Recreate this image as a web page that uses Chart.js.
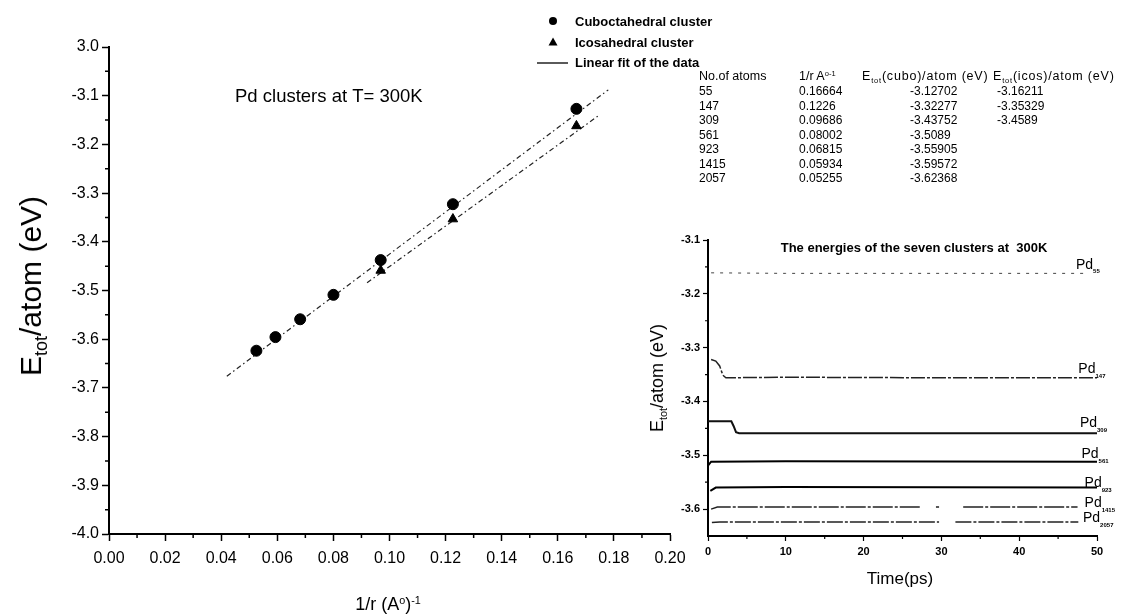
<!DOCTYPE html>
<html>
<head>
<meta charset="utf-8">
<script src="https://cdn.jsdelivr.net/npm/chart.js@4.4.1/dist/chart.umd.min.js"></script>
<style>
  body { margin: 0; width: 1122px; height: 615px; overflow: hidden; position: relative; background: #fff;
         font-family: "Liberation Sans", Arial, sans-serif; color: #000; }
  canvas { position: absolute; }
  #main { left: 0; top: 0; }
  #inset { left: 640px; top: 220px; }
  .t { position: absolute; white-space: nowrap; line-height: 1; }
  .sub { font-size: 60%; position: relative; top: 0.35em; }
  .sup { font-size: 60%; position: relative; top: -0.55em; }
  .cell { position: absolute; white-space: nowrap; font-size: 12px; line-height: 1; transform: translateY(-50%); }
  .head { font-size: 12.5px; }
  .wide { letter-spacing: 0.8px; }
</style>
</head>
<body>
<canvas id="main" width="1122" height="615"></canvas>
<canvas id="inset" width="482" height="395"></canvas>

<div class="t" style="left:31px;top:286px;font-size:30px;transform:translate(-50%,-50%) rotate(-90deg)">E<span class="sub">tot</span>/atom (eV)</div>
<div class="t" style="left:388px;top:604px;font-size:18px;transform:translate(-50%,-50%)">1/r (A<span class="sup">o</span>)<span class="sup">-1</span></div>
<div class="t" style="left:657px;top:378px;font-size:18px;transform:translate(-50%,-50%) rotate(-90deg)">E<span class="sub">tot</span>/atom (eV)</div>
<div class="t" style="left:900px;top:578px;font-size:17px;transform:translate(-50%,-50%)">Time(ps)</div>
<div id="table"></div>

<script>
// --- Data ---
const clusterAtoms = [55, 147, 309, 561, 923, 1415, 2057];
const inverseRadius = [0.16664, 0.1226, 0.09686, 0.08002, 0.06815, 0.05934, 0.05255];
const energyCubo = [-3.12702, -3.32277, -3.43752, -3.5089, -3.55905, -3.59572, -3.62368];
const energyIcos = [-3.16211, -3.35329, -3.4589];

// end points of the two dash-dot fit lines
const fitCuboX = [0.042, 0.178];
const fitCuboY = [-3.676, -3.088];
const fitIcosX = [0.092, 0.175];
const fitIcosY = [-3.484, -3.139];

// main axes ticks
const mainXMajor = [0, 0.02, 0.04, 0.06, 0.08, 0.10, 0.12, 0.14, 0.16, 0.18, 0.20];
const mainXLabels = ['0.00', '0.02', '0.04', '0.06', '0.08', '0.10', '0.12', '0.14', '0.16', '0.18', '0.20'];
const mainXMinor = [0.01, 0.03, 0.05, 0.07, 0.09, 0.11, 0.13, 0.15, 0.17, 0.19];
const mainYMajor = [-4.0, -3.9, -3.8, -3.7, -3.6, -3.5, -3.4, -3.3, -3.2, -3.1, -3.0];
const mainYLabels = ['-4.0', '-3.9', '-3.8', '-3.7', '-3.6', '-3.5', '-3.4', '-3.3', '-3.2', '-3.1', '3.0'];
const mainYMinor = [-3.95, -3.85, -3.75, -3.65, -3.55, -3.45, -3.35, -3.25, -3.15, -3.05];

// inset: energy vs time for the seven clusters (null = gap in the trace)
const clusterNames = ['55', '147', '309', '561', '923', '1415', '2057'];
const pd55T = [0.4, 10, 25, 48.5];
const pd55E = [-3.161, -3.162, -3.162, -3.162];
const pd147T = [0.4, 1.0, 1.5, 1.9, 2.3, 10, 30, 50];
const pd147E = [-3.322, -3.325, -3.334, -3.351, -3.356, -3.355, -3.356, -3.356];
const pd309T = [0, 3.0, 3.3, 3.6, 4.0, 20, 50];
const pd309E = [-3.437, -3.437, -3.446, -3.457, -3.459, -3.459, -3.459];
const pd561T = [0, 0.4, 10, 50];
const pd561E = [-3.519, -3.512, -3.511, -3.512];
const pd923T = [0.3, 1.0, 10, 50];
const pd923E = [-3.566, -3.560, -3.559, -3.560];
const pd1415T = [0.4, 1.2, 27.4, 27.5, 29.3, 29.7, 29.8, 32.8, 47.5];
const pd1415E = [-3.600, -3.596, -3.596, null, -3.596, -3.596, null, -3.596, -3.596];
const pd2057T = [0.5, 1.5, 29.7, 29.8, 31.8, 47.6];
const pd2057E = [-3.625, -3.624, -3.624, null, -3.624, -3.624];
// where the Pd labels sit (time, energy)
const labelT = [47.3, 47.6, 47.8, 48.0, 48.4, 48.4, 48.2];
const labelE = [-3.146, -3.340, -3.441, -3.498, -3.552, -3.589, -3.617];

const insetXMajor = [0, 10, 20, 30, 40, 50];
const insetXMinor = [5, 15, 25, 35, 45];
const insetYMajor = [-3.6, -3.5, -3.4, -3.3, -3.2, -3.1];
const insetYMinor = [-3.55, -3.45, -3.35, -3.25, -3.15];

// --- Helpers ---
const FONT = '"Liberation Sans", Arial, sans-serif';
function pts(xs, ys) { return xs.map((x, i) => ({x: x, y: ys[i]})); }
function near(list, v) { return list.findIndex(m => Math.abs(m - v) < 1e-9); }
function tickList(majors, minors) {
  return majors.concat(minors).sort((a, b) => a - b).map(v => ({value: v}));
}

// short minor ticks, drawn outward
const minorTicks = {
  id: 'minorTicks',
  afterDraw(chart, args, opts) {
    const {ctx, scales: {x, y}} = chart;
    ctx.save();
    ctx.strokeStyle = '#000';
    ctx.lineWidth = opts.width;
    ctx.beginPath();
    opts.x.forEach(v => { const p = x.getPixelForValue(v); ctx.moveTo(p, x.top); ctx.lineTo(p, x.top + opts.len); });
    opts.y.forEach(v => { const p = y.getPixelForValue(v); ctx.moveTo(y.right, p); ctx.lineTo(y.right - opts.len, p); });
    ctx.stroke();
    ctx.restore();
  }
};

// --- Main chart decorations: title and legend ---
const mainDeco = {
  id: 'mainDeco',
  afterDraw(chart) {
    const ctx = chart.ctx;
    ctx.save();
    ctx.fillStyle = '#000';
    ctx.textBaseline = 'middle';
    ctx.font = '18.5px ' + FONT;
    ctx.fillText('Pd clusters at T= 300K', 235, 97);

    ctx.font = 'bold 13px ' + FONT;
    ctx.beginPath(); ctx.arc(553, 21, 4, 0, Math.PI * 2); ctx.fill();
    ctx.beginPath(); ctx.moveTo(553, 37.5); ctx.lineTo(557.5, 45.5); ctx.lineTo(548.5, 45.5); ctx.closePath(); ctx.fill();
    ctx.lineWidth = 1.3;
    ctx.beginPath(); ctx.moveTo(537, 63); ctx.lineTo(568, 63); ctx.stroke();
    ctx.fillText('Cuboctahedral cluster', 575, 22);
    ctx.fillText('Icosahedral cluster', 575, 43);
    ctx.fillText('Linear fit of the data', 575, 63);
    ctx.restore();
  }
};

new Chart(document.getElementById('main'), {
  type: 'scatter',
  data: {
    datasets: [
      {label: 'Cuboctahedral cluster', data: pts(inverseRadius, energyCubo), pointStyle: 'circle',
       pointRadius: 5.5, backgroundColor: '#000', borderColor: '#000'},
      {label: 'Icosahedral cluster', data: pts(inverseRadius.slice(0, energyIcos.length), energyIcos), pointStyle: 'triangle',
       pointRadius: 5.5, backgroundColor: '#000', borderColor: '#000'},
      {label: 'Linear fit cubo', data: pts(fitCuboX, fitCuboY), showLine: true, pointRadius: 0,
       borderColor: '#222', borderWidth: 1.2, borderDash: [5, 3, 1.5, 3]},
      {label: 'Linear fit icos', data: pts(fitIcosX, fitIcosY), showLine: true, pointRadius: 0,
       borderColor: '#222', borderWidth: 1.2, borderDash: [5, 3, 1.5, 3]}
    ]
  },
  options: {
    responsive: false,
    animation: false,
    layout: {padding: {left: 0, top: 47, right: 452, bottom: 0}},
    plugins: {
      legend: {display: false},
      tooltip: {enabled: false},
      minorTicks: {x: mainXMinor, y: mainYMinor, len: 4, width: 1.5}
    },
    scales: {
      x: {
        type: 'linear', min: 0, max: 0.2,
        afterBuildTicks: s => { s.ticks = tickList(mainXMajor, mainXMinor); },
        afterFit: s => { s.height = 81; },
        ticks: {autoSkip: false, maxRotation: 0, padding: 8, color: '#000', font: {family: FONT, size: 16},
                callback: v => { const i = near(mainXMajor, v); return i < 0 ? '' : mainXLabels[i]; }},
        grid: {drawOnChartArea: false, tickLength: 7, tickWidth: 1.5,
               tickColor: c => (c.tick && near(mainXMajor, c.tick.value) >= 0) ? '#000' : 'rgba(0,0,0,0)'},
        border: {color: '#000', width: 2}
      },
      y: {
        type: 'linear', min: -4, max: -3,
        afterBuildTicks: s => { s.ticks = tickList(mainYMajor, mainYMinor); },
        afterFit: s => { s.width = 109; },
        ticks: {autoSkip: false, padding: 3, color: '#000', font: {family: FONT, size: 16},
                callback: v => { const i = near(mainYMajor, v); return i < 0 ? '' : mainYLabels[i]; }},
        grid: {drawOnChartArea: false, tickLength: 7, tickWidth: 1.5,
               tickColor: c => (c.tick && near(mainYMajor, c.tick.value) >= 0) ? '#000' : 'rgba(0,0,0,0)'},
        border: {color: '#000', width: 2}
      }
    }
  },
  plugins: [minorTicks, mainDeco]
});

// --- Inset decorations: title and Pd labels ---
const insetDeco = {
  id: 'insetDeco',
  afterDraw(chart) {
    const {ctx, scales: {x, y}} = chart;
    ctx.save();
    ctx.fillStyle = '#000';
    ctx.textBaseline = 'middle';
    ctx.textAlign = 'center';
    ctx.font = 'bold 13px ' + FONT;
    ctx.fillText('The energies of the seven clusters at  300K', 274, 28);
    ctx.textAlign = 'left';
    clusterNames.forEach((n, i) => {
      const px = x.getPixelForValue(labelT[i]);
      const py = y.getPixelForValue(labelE[i]);
      ctx.font = '14px ' + FONT;
      ctx.fillText('Pd', px, py);
      const w = ctx.measureText('Pd').width;
      ctx.font = 'bold 6px ' + FONT;
      ctx.fillText(n, px + w, py + 7);
    });
    ctx.restore();
  }
};

function trace(label, xs, ys, width, dash, color) {
  return {label: label, data: pts(xs, ys), showLine: true, pointRadius: 0, spanGaps: false,
          borderColor: color, borderWidth: width, borderDash: dash};
}

new Chart(document.getElementById('inset'), {
  type: 'scatter',
  data: {
    datasets: [
      trace('Pd55', pd55T, pd55E, 1, [3, 6], '#444'),
      trace('Pd147', pd147T, pd147E, 1.5, [14, 2, 3, 2], '#222'),
      trace('Pd309', pd309T, pd309E, 2, [], '#111'),
      trace('Pd561', pd561T, pd561E, 2, [], '#000'),
      trace('Pd923', pd923T, pd923E, 2, [], '#000'),
      trace('Pd1415', pd1415T, pd1415E, 1.5, [20, 2, 3, 2], '#222'),
      trace('Pd2057', pd2057T, pd2057E, 1.5, [16, 2, 3, 2], '#222')
    ]
  },
  options: {
    responsive: false,
    animation: false,
    layout: {padding: {left: 0, top: 20, right: 25, bottom: 0}},
    plugins: {
      legend: {display: false},
      tooltip: {enabled: false},
      minorTicks: {x: insetXMinor, y: insetYMinor, len: 3, width: 1.2}
    },
    scales: {
      x: {
        type: 'linear', min: 0, max: 50,
        afterBuildTicks: s => { s.ticks = tickList(insetXMajor, insetXMinor); },
        afterFit: s => { s.height = 79; },
        ticks: {autoSkip: false, maxRotation: 0, padding: 4, color: '#000', font: {family: FONT, size: 11, weight: 'bold'},
                callback: v => near(insetXMajor, v) < 0 ? '' : String(v)},
        grid: {drawOnChartArea: false, tickLength: 5, tickWidth: 1.2,
               tickColor: c => (c.tick && near(insetXMajor, c.tick.value) >= 0) ? '#000' : 'rgba(0,0,0,0)'},
        border: {color: '#000', width: 2}
      },
      y: {
        type: 'linear', min: -3.65, max: -3.1,
        afterBuildTicks: s => { s.ticks = tickList(insetYMajor, insetYMinor); },
        afterFit: s => { s.width = 68; },
        ticks: {autoSkip: false, padding: 3, color: '#000', font: {family: FONT, size: 11, weight: 'bold'},
                callback: v => near(insetYMajor, v) < 0 ? '' : v.toFixed(1)},
        grid: {drawOnChartArea: false, tickLength: 5, tickWidth: 1.2,
               tickColor: c => (c.tick && near(insetYMajor, c.tick.value) >= 0) ? '#000' : 'rgba(0,0,0,0)'},
        border: {color: '#000', width: 2}
      }
    }
  },
  plugins: [minorTicks, insetDeco]
});

// --- Table of values ---
const table = document.getElementById('table');
const colLeft = [699, 799, 910, 997];
const headLeft = [699, 799, 862, 993];
const headText = ['No.of atoms', '1/r A<span class="sup">o-1</span>',
                  'E<span class="sub">tot</span>(cubo)/atom (eV)', 'E<span class="sub">tot</span>(icos)/atom (eV)'];
function addCell(html, left, top, cls) {
  const d = document.createElement('div');
  d.className = 'cell' + (cls ? ' ' + cls : '');
  d.style.left = left + 'px';
  d.style.top = top + 'px';
  d.innerHTML = html;
  table.appendChild(d);
}
headText.forEach((h, i) => addCell(h, headLeft[i], 76, i > 1 ? 'head wide' : 'head'));
clusterAtoms.forEach((n, r) => {
  const top = 91 + r * 14.5;
  addCell(String(n), colLeft[0], top);
  addCell(String(inverseRadius[r]), colLeft[1], top);
  addCell(String(energyCubo[r]), colLeft[2], top);
  if (r < energyIcos.length) addCell(String(energyIcos[r]), colLeft[3], top);
});
</script>
</body>
</html>
